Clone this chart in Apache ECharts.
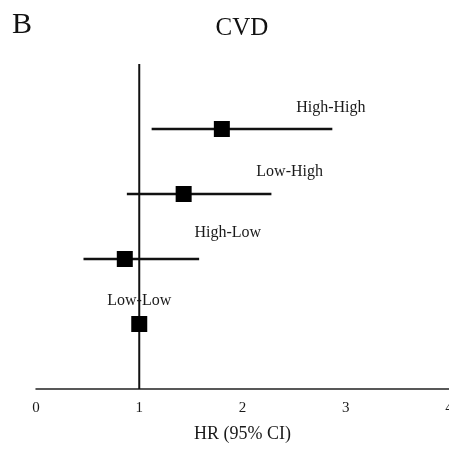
<!DOCTYPE html>
<html>
<head>
<meta charset="utf-8">
<script src="https://cdn.jsdelivr.net/npm/echarts@6/dist/echarts.min.js"></script>
<style>
  html, body { margin: 0; padding: 0; background: #fff; }
  #CvdChart { width: 449px; height: 452px; }
</style>
</head>
<body>
<div id="CvdChart"></div>
<script>
// 分组、HR 及 95% CI
var groups = ['High-High', 'Low-High', 'High-Low', 'Low-Low'];
var rows = [4, 3, 2, 1];
var hr = [1.80, 1.43, 0.86, 1.00];
var ciLow = [1.12, 0.88, 0.46, null];
var ciHigh = [2.87, 2.28, 1.58, null];
var xTicks = [0, 1, 2, 3, 4];

// 标签偏移 (px)
var labelOffsets = [[109, -21], [106, -22], [103, -26], [0, -23]];

var serif = '"Liberation Serif", "DejaVu Serif", serif';

function LoadCvd() {
    var myChart = echarts.init(document.getElementById('CvdChart'));

    var ciData = [];
    var pointData = [];
    for (var i = 0; i < groups.length; i++) {
        if (ciLow[i] != null) {
            ciData.push([ciLow[i], ciHigh[i], rows[i]]);
        }
        pointData.push({
            value: [hr[i], rows[i]],
            label: {
                show: true,
                formatter: groups[i],
                position: 'inside',
                offset: labelOffsets[i],
                color: '#1a1a1a',
                fontFamily: serif,
                fontSize: 16
            }
        });
    }

    var option = {
        backgroundColor: '#fff',
        animation: false,
        title: [{
            text: 'B',
            left: 7,
            top: 5,
            textStyle: { fontFamily: serif, fontSize: 30, fontWeight: 'normal', color: '#111' }
        }, {
            text: 'CVD',
            left: 237,
            top: 11,
            textAlign: 'center',
            textStyle: { fontFamily: serif, fontSize: 25, fontWeight: 'normal', color: '#111' }
        }],
        grid: {
            left: 36,
            right: 0,
            top: 64,
            bottom: 63,
            outerBoundsMode: 'none'
        },
        xAxis: {
            type: 'value',
            min: xTicks[0],
            max: xTicks[xTicks.length - 1],
            interval: 1,
            name: 'HR (95% CI)',
            nameLocation: 'middle',
            nameGap: 36,
            nameTextStyle: { fontFamily: serif, fontSize: 18, color: '#1a1a1a' },
            splitLine: { show: false },
            axisTick: { show: false },
            axisLine: { lineStyle: { color: '#222', width: 1.5 } },
            axisLabel: {
                margin: 12,
                fontFamily: serif,
                fontSize: 15,
                color: '#1a1a1a',
                showMaxLabel: true,
                hideOverlap: false
            }
        },
        yAxis: {
            type: 'value',
            min: 0,
            max: 5,
            show: false
        },
        series: [{
            // 参考线 HR = 1
            type: 'line',
            data: [[1, 0], [1, 5]],
            symbol: 'none',
            lineStyle: { color: '#111', width: 2 },
            z: 1
        }, {
            name: 'CI',
            type: 'custom',
            data: ciData,
            renderItem: function (params, api) {
                var p1 = api.coord([api.value(0), api.value(2)]);
                var p2 = api.coord([api.value(1), api.value(2)]);
                return {
                    type: 'line',
                    shape: { x1: p1[0], y1: p1[1], x2: p2[0], y2: p2[1] },
                    style: { stroke: '#111', lineWidth: 2.5 }
                };
            },
            z: 2
        }, {
            name: 'HR',
            type: 'scatter',
            symbol: 'rect',
            symbolSize: 16,
            itemStyle: { color: '#000', opacity: 1 },
            data: pointData,
            z: 3
        }]
    };

    myChart.setOption(option);
}

LoadCvd();
</script>
</body>
</html>
